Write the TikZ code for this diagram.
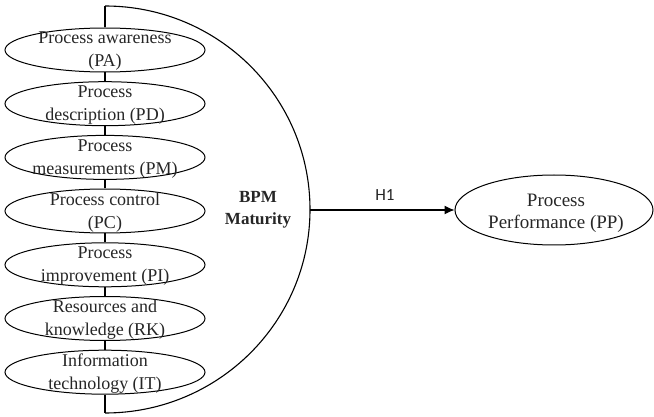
\documentclass[tikz,border=0pt]{standalone}
\usepackage{fontspec}
\setmainfont{Liberation Serif}
\newfontfamily\hfont{Carlito}
\usetikzlibrary{shapes.geometric,arrows.meta}
\begin{document}
\begin{tikzpicture}[x=1pt,y=-1pt,
  oval/.style={ellipse,draw,line width=1pt,minimum width=200pt,minimum height=44pt,inner sep=0pt},
  bigoval/.style={ellipse,draw,line width=1pt,minimum width=198pt,minimum height=70pt,inner sep=0pt},
  ltxt/.style={align=center,inner sep=0pt,font=\fontsize{18}{23}\selectfont,text=black!85},
  ptxt/.style={align=center,inner sep=0pt,font=\fontsize{19}{22}\selectfont,text=black!85},
  btxt/.style={align=center,inner sep=0pt,font=\fontsize{17}{22}\selectfont\bfseries,text=black!85},
  htxt/.style={inner sep=0pt,font=\hfont\fontsize{17}{20}\selectfont,text=black!85},
  conn/.style={line width=1.1pt,draw=black}]
\useasboundingbox (0,0) rectangle (654,417);
% left ellipses
\node[oval] (pa) at (105,50) {};
\node[oval] (pd) at (105,103.7) {};
\node[oval] (pm) at (105,157.4) {};
\node[oval] (pc) at (105,211) {};
\node[oval] (pi) at (105,264.8) {};
\node[oval] (rk) at (105,318.5) {};
\node[oval] (it) at (105,372.2) {};
\node[ltxt] (tpa) at (105,51.3) {Process awareness\\(PA)};
\node[ltxt] (tpd) at (105,105) {Process\\description (PD)};
\node[ltxt] (tpm) at (105,158.7) {Process\\measurements (PM)};
\node[ltxt] (tpc) at (105,212.3) {Process control\\(PC)};
\node[ltxt] (tpi) at (105,266.1) {Process\\improvement (PI)};
\node[ltxt] (trk) at (105,319.8) {Resources and\\knowledge (RK)};
\node[ltxt] (tit) at (105,373.5) {Information\\technology (IT)};
% spine
\coordinate (top) at (105,6);
\coordinate (bot) at (105,413);
\coordinate (bpmr) at (310,210);
\draw[conn] (top) -- (pa.north);
\draw[conn] (pa.south) -- (pd.north);
\draw[conn] (pd.south) -- (pm.north);
\draw[conn] (pm.south) -- (pc.north);
\draw[conn] (pc.south) -- (pi.north);
\draw[conn] (pi.south) -- (rk.north);
\draw[conn] (rk.south) -- (it.north);
\draw[conn] (it.south) -- (bot);
% half ellipse
\draw[conn] (top) arc[start angle=90,end angle=-90,x radius=205pt,y radius=203.5pt];
\node[btxt] (bpm) at (258,210) {BPM\\Maturity};
% outcome
\node[bigoval] (pp) at (554,210) {};
\node[ptxt] (tpp) at (556,213) {Process\\Performance (PP)};
\draw[conn,-{Latex[length=10pt,width=9pt]}] (bpmr) -- (pp.west);
\node[htxt] (h1) at (385,195) {H1};
\end{tikzpicture}
\end{document}
